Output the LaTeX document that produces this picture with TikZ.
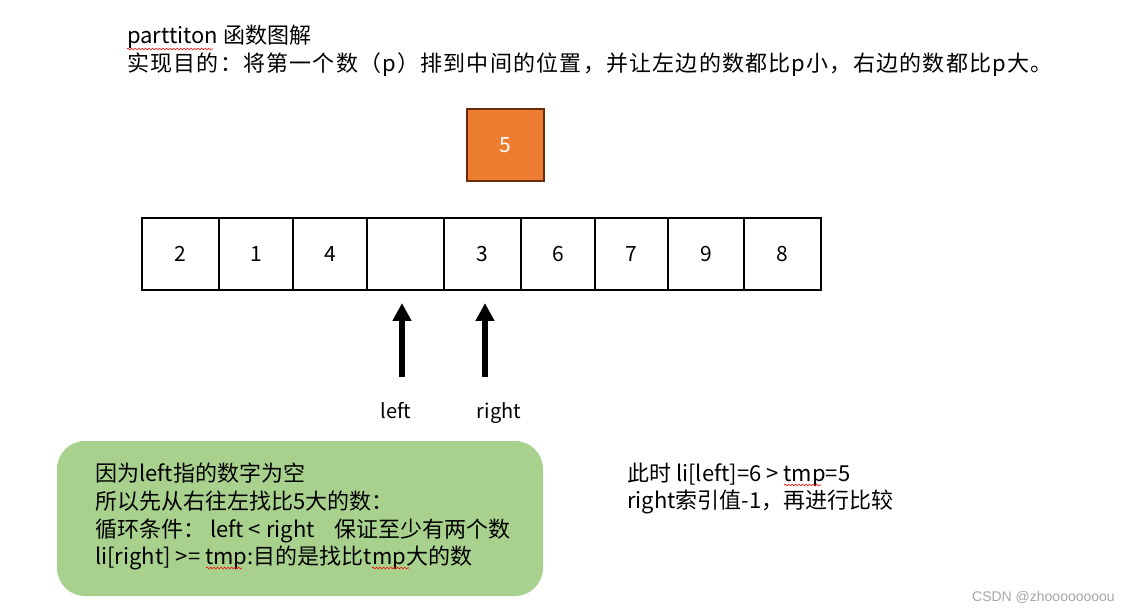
\documentclass[tikz,border=0pt]{standalone}
\usepackage{fontspec}
\setmainfont{Noto Sans CJK SC}
\newfontfamily\wmfont{Liberation Sans}
\usetikzlibrary{arrows.meta,decorations.pathmorphing}
\definecolor{orangefill}{HTML}{ED7D31}
\definecolor{orangeline}{HTML}{6B2A08}
\definecolor{greenfill}{HTML}{A9D18E}
\definecolor{wmgray}{HTML}{A6A6A6}
\tikzset{
  txt/.style={anchor=base west, inner sep=0pt, font=\fontsize{22}{28}\selectfont},
  cell/.style={draw=black, line width=2pt, minimum height=72pt, inner sep=0pt, font=\fontsize{21}{24}\selectfont},
  ptr/.style={line width=6pt, -{Triangle[width=18pt,length=18pt]}},
  lbl/.style={anchor=base, inner sep=0pt, font=\fontsize{20}{24}\selectfont},
  wavy/.style={red, line width=0.6pt, decorate, decoration={snake, amplitude=0.9pt, segment length=3.5pt}}
}
\begin{document}
\begin{tikzpicture}[x=1pt,y=-1pt]
\useasboundingbox[fill=white] (0,0) rectangle (1130,612);

% title
\node[txt] (t1) at (127,44) {parttiton 函数图解};
\node[txt] (t2) at (127,72) {\addfontfeature{LetterSpace=5.5}实现目的：将第一个数（p）排到中间的位置，并让左边的数都比p小，右边的数都比p大。};
\draw[wavy] (127,49) -- (213,49);

% pivot
\node[draw=orangeline, line width=2pt, fill=orangefill, minimum width=77pt, minimum height=72pt, inner sep=0pt,
      text=white, font=\fontsize{21}{24}\selectfont] (p) at (505.5,145) {5};

% array
\node[cell, minimum width=77pt] (c1) at (180.5,254) {2};
\node[cell, minimum width=74pt] (c2) at (256,254) {1};
\node[cell, minimum width=74pt] (c3) at (330,254) {4};
\node[cell, minimum width=77pt] (c4) at (405.5,254) {};
\node[cell, minimum width=77pt] (c5) at (482.5,254) {3};
\node[cell, minimum width=74pt] (c6) at (558,254) {6};
\node[cell, minimum width=73pt] (c7) at (631.5,254) {7};
\node[cell, minimum width=76pt] (c8) at (706,254) {9};
\node[cell, minimum width=77pt] (c9) at (782.5,254) {8};

% pointers
\coordinate (la0) at (402,377);
\coordinate (la1) at (402,303);
\coordinate (ra0) at (485,377);
\coordinate (ra1) at (485,303);
\draw[ptr] (la0) -- (la1);
\draw[ptr] (ra0) -- (ra1);
\node[lbl] (ll) at (396,418) {left};
\node[lbl] (rl) at (499,418) {right};

% green note
\node[fill=greenfill, rounded corners=28pt, minimum width=486pt, minimum height=155pt, inner sep=0pt] (g) at (300,518.5) {};
\node[txt] (g1) at (95,481) {因为left指的数字为空};
\node[txt] (g2) at (95,509) {所以先从右往左找比5大的数：};
\node[txt] (g3) at (95,537) {循环条件：\ left < right\ \ \ \ 保证至少有两个数};
\node[txt] (g4) at (95,564) {li[right] >= tmp:目的是找比tmp大的数};
\draw[wavy] (206,568) -- (242,568);
\draw[wavy] (372,568) -- (409,568);

% right note
\node[txt] (r1) at (627,481) {此时 li[left]=6 > tmp=5};
\node[txt] (r2) at (627,508) {right索引值-1，再进行比较};
\draw[wavy] (784,485) -- (821,485);

% watermark
\node[anchor=base east, inner sep=0pt, text=wmgray, font=\wmfont\fontsize{14}{16}\selectfont] (wm) at (1115,601) {CSDN @zhoooooooou};
\end{tikzpicture}
\end{document}
